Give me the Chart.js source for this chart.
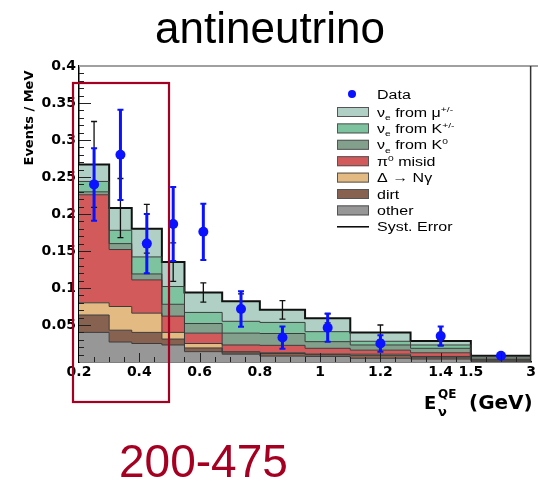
<!DOCTYPE html>
<html>
<head>
<meta charset="utf-8">
<script src="https://cdn.jsdelivr.net/npm/chart.js@4.4.0/dist/chart.umd.min.js"></script>
<style>
    html, body { margin: 0; padding: 0; background: #fff; }
</style>
</head>
<body>
<canvas id="myChartHist" width="538" height="483"></canvas>
<script>
// bin edges (GeV), last bin 1.5 - 3 is squeezed on the axis
const binEdges = [0.2, 0.3, 0.375, 0.475, 0.55, 0.675, 0.8, 0.95, 1.1, 1.3, 1.5, 3.0];

// stacked MC components (Events / MeV), bottom -> top
const other = [0.040, 0.027, 0.025, 0.023, 0.014, 0.0105, 0.008, 0.0075, 0.005, 0.004, 0.001];
const dirt  = [0.0235, 0.016, 0.015, 0.008, 0.005, 0.002, 0.0035, 0.0025, 0.004, 0.0025, 0.0015];
const delta = [0.0165, 0.032, 0.026, 0.009, 0.006, 0.0015, 0.001, 0.001, 0.0015, 0.001, 0.0005];
const pi0   = [0.146, 0.077, 0.045, 0.022, 0.014, 0.009, 0.010, 0.0075, 0.0055, 0.005, 0.001];
const k0    = [0.004, 0.008, 0.008, 0.016, 0.013, 0.016, 0.016, 0.009, 0.007, 0.006, 0.003];
const kpm   = [0.014, 0.018, 0.023, 0.024, 0.015, 0.016, 0.015, 0.0135, 0.005, 0.0045, 0.0005];
const muon  = [0.023, 0.030, 0.038, 0.033, 0.027, 0.027, 0.017, 0.018, 0.012, 0.0055, 0.001];
const systErr = [0.058, 0.040, 0.033, 0.026, 0.013, 0.010, 0.0125, 0.006, 0.010, 0.006, 0.002];

// data points
const dataX   = [0.25, 0.3375, 0.425, 0.5125, 0.6125, 0.7375, 0.875, 1.025, 1.2, 1.4, 2.25];
const dataY   = [0.240, 0.280, 0.160, 0.1865, 0.176, 0.0716, 0.033, 0.0464, 0.025, 0.035, 0.0085];
const dataErr = [0.049, 0.061, 0.040, 0.050, 0.038, 0.024, 0.015, 0.019, 0.011, 0.013, 0];

// axis ticks
const xTickValues = [0.2, 0.4, 0.6, 0.8, 1.0, 1.2, 1.4, 1.5, 3.0];
const xTickLabels = ['0.2', '0.4', '0.6', '0.8', '1', '1.2', '1.4', '1.5', '3'];

const layerNames  = ['other', 'dirt', 'delta', 'pi0', 'k0', 'kpm', 'muon'];
const layerValues = [other, dirt, delta, pi0, k0, kpm, muon];
const layerColors = ['#979797', '#886250', '#e2ba82', '#d25a5a', '#82a08b', '#7dc39f', '#b0d0c5'];

// axis from 0.2 to 1.5 is linear, 1.5 -> 3 is squeezed into 0.2 of width
function toAxis(e) {
    return e <= 1.5 ? e : 1.5 + (e - 1.5) * 0.2 / 1.5;
}

function stepPoints(vals) {
    var pts = vals.map((v, i) => ({ x: toAxis(binEdges[i]), y: v }));
    pts.push({ x: toAxis(binEdges[binEdges.length - 1]), y: vals[vals.length - 1] });
    return pts;
}

const datasets = [{
    label: 'Data',
    data: dataX.map((x, i) => ({ x: toAxis(x), y: dataY[i] })),
    showLine: false,
    stack: 'data',
    pointRadius: 5,
    pointBackgroundColor: '#0a12ff',
    pointBorderWidth: 0
}];

layerValues.forEach((vals, i) => {
    datasets.push({
        label: layerNames[i],
        data: stepPoints(vals),
        stack: 'mc',
        stepped: true,
        fill: i == 0 ? 'origin' : '-1',
        backgroundColor: layerColors[i],
        borderColor: i == layerValues.length - 1 ? '#111' : '#3c3c3c',
        borderWidth: i == layerValues.length - 1 ? 2 : 1,
        pointRadius: 0
    });
});

const RED = '#a50021';

function drawRich(ctx, x, y, parts, sx) {
    ctx.save();
    ctx.translate(x, y);
    ctx.scale(sx, 1);
    var cx = 0;
    parts.forEach(p => {
        var size = p[1] == 'n' ? 12.5 : 8;
        var dy = p[1] == 'sub' ? 3.5 : (p[1] == 'sup' ? -5 : 0);
        ctx.font = size + 'px "Liberation Sans"';
        ctx.fillText(p[0], cx, dy);
        cx += ctx.measureText(p[0]).width;
    });
    ctx.restore();
}

const extras = {
    id: 'extras',
    beforeDatasetDraw(chart, args) {
        if (args.index !== 0) return;
        const ctx = chart.ctx;
        const xs = chart.scales.x, ys = chart.scales.y;
        ctx.save();
        // syst error bars on MC total
        ctx.strokeStyle = '#111';
        ctx.lineWidth = 1.3;
        for (var i = 0; i < systErr.length; i++) {
            var total = layerValues.reduce((s, arr) => s + arr[i], 0);
            var cx = xs.getPixelForValue((toAxis(binEdges[i]) + toAxis(binEdges[i + 1])) / 2);
            var y1 = ys.getPixelForValue(total + systErr[i]);
            var y2 = ys.getPixelForValue(total - systErr[i]);
            ctx.beginPath();
            ctx.moveTo(cx, y1); ctx.lineTo(cx, y2);
            ctx.moveTo(cx - 3, y1); ctx.lineTo(cx + 3, y1);
            ctx.moveTo(cx - 3, y2); ctx.lineTo(cx + 3, y2);
            ctx.stroke();
        }
        // data error bars
        ctx.strokeStyle = '#0a12ff';
        for (var j = 0; j < dataX.length; j++) {
            if (dataErr[j] <= 0) continue;
            var px = xs.getPixelForValue(toAxis(dataX[j]));
            var t = ys.getPixelForValue(dataY[j] + dataErr[j]);
            var b = ys.getPixelForValue(dataY[j] - dataErr[j]);
            ctx.lineWidth = 3;
            ctx.beginPath();
            ctx.moveTo(px, t); ctx.lineTo(px, b);
            ctx.stroke();
            ctx.lineWidth = 2;
            ctx.beginPath();
            ctx.moveTo(px - 3, t); ctx.lineTo(px + 3, t);
            ctx.moveTo(px - 3, b); ctx.lineTo(px + 3, b);
            ctx.stroke();
        }
        ctx.restore();
    },
    afterDraw(chart) {
        const ctx = chart.ctx;
        const area = chart.chartArea;
        const xs = chart.scales.x, ys = chart.scales.y;
        ctx.save();

        // frame
        ctx.strokeStyle = '#a0a0a0';
        ctx.lineWidth = 2;
        ctx.beginPath();
        ctx.moveTo(area.left, area.top); ctx.lineTo(538, area.top);
        ctx.stroke();
        ctx.strokeStyle = '#333';
        ctx.lineWidth = 1.5;
        ctx.beginPath();
        ctx.moveTo(area.right - 0.5, area.top); ctx.lineTo(area.right - 0.5, area.bottom);
        ctx.stroke();

        // ticks inside the frame
        ctx.strokeStyle = '#222';
        ctx.lineWidth = 1;
        ctx.beginPath();
        for (var k = 1; k < 40; k++) {
            var py = Math.round(ys.getPixelForValue(k / 100)) + 0.5;
            var len = k % 5 == 0 ? 12 : 5;
            ctx.moveTo(area.left, py); ctx.lineTo(area.left + len, py);
        }
        for (var m = 5; m < 34; m++) {
            var v = m * 0.05;
            var px = Math.round(xs.getPixelForValue(v)) + 0.5;
            var major = (m % 4 == 0) || m == 30;
            ctx.moveTo(px, area.bottom); ctx.lineTo(px, area.bottom - (major ? 9 : 5));
        }
        ctx.stroke();

        // title
        ctx.fillStyle = '#000';
        ctx.textAlign = 'center';
        ctx.textBaseline = 'alphabetic';
        ctx.font = '44px "Liberation Sans"';
        ctx.fillText('antineutrino', 270, 43);

        // y title
        ctx.save();
        ctx.translate(33, 118);
        ctx.rotate(-Math.PI / 2);
        ctx.font = 'bold 13px "DejaVu Sans"';
        ctx.fillText('Events / MeV', 0, 0);
        ctx.restore();

        // x title
        ctx.textAlign = 'left';
        ctx.font = 'bold 18px "DejaVu Sans"';
        ctx.fillText('E', 424, 409);
        ctx.font = 'bold 12px "DejaVu Sans"';
        ctx.fillText('QE', 438, 398);
        ctx.font = 'bold 13px "DejaVu Sans"';
        ctx.fillText('\u03bd', 438, 416);
        ctx.font = 'bold 20px "DejaVu Sans"';
        ctx.fillText('(GeV)', 469, 409);

        // legend
        const rowY = [112, 128.4, 144.8, 161.2, 177.6, 194, 210.4];
        const legendText = [
            [['\u03bd', 'n'], ['e', 'sub'], [' from \u03bc', 'n'], ['+/-', 'sup']],
            [['\u03bd', 'n'], ['e', 'sub'], [' from K', 'n'], ['+/-', 'sup']],
            [['\u03bd', 'n'], ['e', 'sub'], [' from K', 'n'], ['0', 'sup']],
            [['\u03c0', 'n'], ['0', 'sup'], [' misid', 'n']],
            [['\u0394 \u2192 N\u03b3', 'n']],
            [['dirt', 'n']],
            [['other', 'n']]
        ];
        ctx.fillStyle = '#0a12ff';
        ctx.beginPath();
        ctx.arc(352, 94, 4, 0, Math.PI * 2);
        ctx.fill();
        ctx.fillStyle = '#000';
        drawRich(ctx, 377, 98.5, [['Data', 'n']], 1.28);
        for (var r = 0; r < rowY.length; r++) {
            var li = layerColors.length - 1 - r;
            ctx.fillStyle = layerColors[li];
            ctx.fillRect(337, rowY[r] - 5, 32, 10);
            ctx.strokeStyle = '#555';
            ctx.lineWidth = 1;
            ctx.strokeRect(337.5, rowY[r] - 4.5, 31, 9);
            ctx.fillStyle = '#000';
            drawRich(ctx, 377, rowY[r] + 4.5, legendText[r], 1.28);
        }
        ctx.strokeStyle = '#000';
        ctx.lineWidth = 1.5;
        ctx.beginPath();
        ctx.moveTo(337, 226.8); ctx.lineTo(369, 226.8);
        ctx.stroke();
        drawRich(ctx, 377, 231.3, [['Syst. Error', 'n']], 1.28);

        // highlighted region
        ctx.strokeStyle = RED;
        ctx.lineWidth = 2.2;
        ctx.strokeRect(73, 83, 96, 319);
        ctx.fillStyle = RED;
        ctx.font = '46px "Liberation Sans"';
        ctx.textAlign = 'left';
        ctx.fillText('200-475', 119, 477);

        ctx.restore();
    }
};

const ctxHist = document.getElementById('myChartHist');
const configHist = {
    type: 'line',
    data: { datasets: datasets },
    options: {
        responsive: false,
        animation: false,
        events: [],
        layout: { padding: { top: 66, right: 3, left: 0, bottom: 0 } },
        plugins: {
            legend: { display: false },
            tooltip: { enabled: false },
            filler: { drawTime: 'beforeDatasetsDraw' }
        },
        scales: {
            x: {
                type: 'linear',
                min: 0.2,
                max: toAxis(3.0),
                grid: { display: false, drawTicks: false },
                border: { display: true, color: '#000', width: 1.5 },
                afterBuildTicks: scale => {
                    scale.ticks = xTickValues.map(v => ({ value: toAxis(v) }));
                },
                afterFit: scale => { scale.height = 121; },
                ticks: {
                    autoSkip: false,
                    maxRotation: 0,
                    padding: 2,
                    color: '#000',
                    font: { family: 'DejaVu Sans', size: 14, weight: 'bold' },
                    callback: (val, idx) => xTickLabels[idx]
                }
            },
            y: {
                stacked: true,
                min: 0,
                max: 0.4,
                grid: { display: false, drawTicks: false },
                border: { display: true, color: '#000', width: 1.5 },
                afterFit: scale => { scale.width = 79; },
                ticks: {
                    stepSize: 0.05,
                    padding: 3,
                    color: '#000',
                    font: { family: 'DejaVu Sans', size: 14, weight: 'bold' },
                    callback: v => v == 0 ? '' : String(Math.round(v * 100) / 100)
                }
            }
        }
    },
    plugins: [extras]
};

new Chart(ctxHist, configHist);
</script>
</body>
</html>
